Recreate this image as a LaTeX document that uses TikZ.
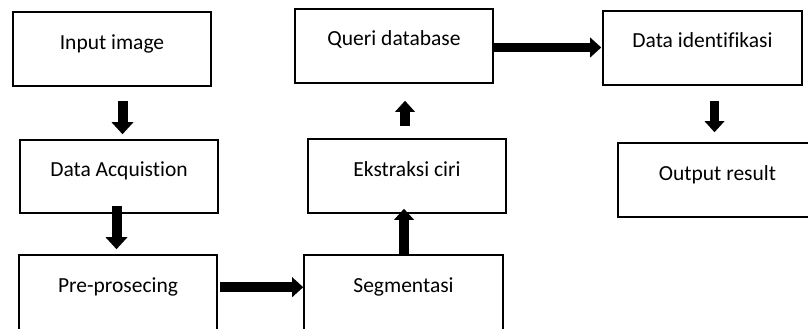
\documentclass[tikz,border=0pt]{standalone}
\usepackage{fontspec}
\setmainfont{Carlito}[Ligatures={NoCommon}]
\usetikzlibrary{arrows.meta}

\begin{document}
\begin{tikzpicture}[x=1pt,y=-1pt,
  stage/.style={draw=black, line width=1.6pt, inner sep=0pt,
    minimum width=198pt, minimum height=74pt,
    text height=8pt, text depth=8pt,
    font=\fontsize{21.5}{25}\selectfont},
  lowstage/.style={stage, minimum height=78pt, text height=6pt, text depth=10pt},
  bigarrow/.style={line width=10pt,
    -{Triangle[width=22pt,length=12pt,line width=0pt]}},
  midarrow/.style={line width=9.5pt,
    -{Triangle[width=20pt,length=11pt,line width=0pt]}}]

\useasboundingbox (0,0) rectangle (808,329);
\clip (0,0) rectangle (808,329);

% first column
\node[stage] (in)  at (112,49)    {Input image};
\node[stage] (acq) at (119,176.5) [minimum height=73pt] {Data Acquistion};
\node[lowstage] (pre) at (118,294) {Pre-prosecing};

% second column
\node[stage] (qdb) at (394,46)  {Queri database};
\node[stage] (eks) at (407,176) {Ekstraksi ciri};
\node[lowstage] (seg) at (403.5,294) [minimum width=199pt] {Segmentasi};

% third column
\node[stage] (did) at (702.5,48)  [minimum width=199pt] {Data identifikasi};
\node[stage] (out) at (717.5,180) [minimum width=199pt] {Output result};

% block arrows between the stages
\draw[bigarrow] ([xshift=10.5pt,yshift=-14pt]in.south) -- ([xshift=3.5pt,yshift=5pt]acq.north);
\draw[bigarrow] ([xshift=-2.5pt,yshift=8pt]acq.south) -- ([xshift=-1.5pt,yshift=5pt]pre.north);
\draw[midarrow] ([xshift=2pt,yshift=-33pt]pre.north east) -- ([yshift=-33pt]seg.north west);
\draw[midarrow] ([xshift=0.5pt,yshift=-2pt]seg.north) -- ([xshift=-3pt,yshift=5pt]eks.south);
\draw[midarrow] ([xshift=-2pt,yshift=12pt]eks.north) -- ([xshift=11pt,yshift=-17pt]qdb.south);
\draw[midarrow] ([xshift=-1pt,yshift=-1.5pt]qdb.east) -- ([xshift=-1pt,yshift=0.5pt]did.west);
\draw[midarrow] ([xshift=12pt,yshift=-15pt]did.south) -- ([xshift=-3pt,yshift=10pt]out.north);
\end{tikzpicture}
\end{document}
